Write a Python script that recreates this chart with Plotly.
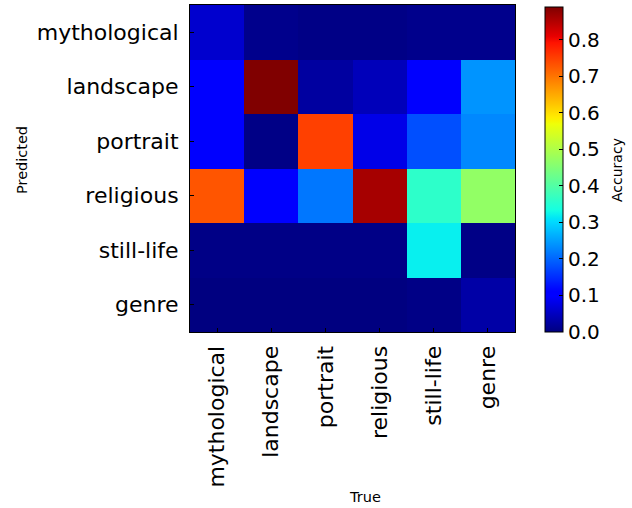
import plotly.graph_objects as go

categories = ["mythological", "landscape", "portrait", "religious", "still-life", "genre"]
# rows = predicted, columns = true
z_values = [
    [0.06, 0.01, 0.005, 0.005, 0.01, 0.01],
    [0.10, 0.89, 0.025, 0.045, 0.105, 0.24],
    [0.10, 0.005, 0.75, 0.08, 0.18, 0.23],
    [0.73, 0.10, 0.215, 0.86, 0.36, 0.47],
    [0.005, 0.005, 0.005, 0.005, 0.32, 0.005],
    [0.0, 0.0, 0.0, 0.0, 0.005, 0.03],
]
cbar_ticks = [0.0, 0.1, 0.2, 0.3, 0.4, 0.5, 0.6, 0.7, 0.8]

# matplotlib "jet" segment data
JET = {
    "r": [(0, 0), (0.35, 0), (0.66, 1), (0.89, 1), (1, 0.5)],
    "g": [(0, 0), (0.125, 0), (0.375, 1), (0.64, 1), (0.91, 0), (1, 0)],
    "b": [(0, 0.5), (0.11, 1), (0.34, 1), (0.65, 0), (1, 0)],
}


def interp(pts, t):
    for (x0, y0), (x1, y1) in zip(pts[:-1], pts[1:]):
        if x0 <= t <= x1:
            return y0 + (y1 - y0) * (t - x0) / (x1 - x0) if x1 > x0 else y1
    return pts[-1][1]


stops = sorted(set([i / 100 for i in range(101)] + [p[0] for c in JET.values() for p in c]))
jet = [[t, "rgb(%d,%d,%d)" % tuple(round(255 * interp(JET[c], t)) for c in "rgb")] for t in stops]

zmax = max(max(r) for r in z_values)

fig = go.Figure(
    go.Heatmap(
        z=z_values,
        x=categories,
        y=categories,
        colorscale=jet,
        zmin=0,
        zmax=zmax,
        colorbar=dict(
            x=1.0 + (545 - 515) / 325,
            xanchor="left",
            y=1 - (7 - 5) / 327,
            yanchor="top",
            len=(332 - 7) / 327,
            lenmode="fraction",
            thickness=18,
            thicknessmode="pixels",
            outlinecolor="black",
            outlinewidth=1,
            tickvals=cbar_ticks,
            ticktext=["%.1f" % v for v in cbar_ticks],
            ticks="inside",
            ticklen=4,
            tickcolor="black",
            tickfont=dict(family="DejaVu Sans", size=20, color="black"),
            xpad=0,
            ypad=0,
        ),
    )
)

fig.update_layout(
    width=632,
    height=508,
    margin=dict(l=190, r=117, t=5, b=176),
    paper_bgcolor="white",
    plot_bgcolor="white",
    font=dict(family="DejaVu Sans", color="black"),
    xaxis=dict(
        showline=True, linecolor="black", linewidth=1, mirror=True,
        ticks="inside", ticklen=4, tickcolor="black",
        tickangle=-90, tickfont=dict(size=22), showgrid=False,
        ticklabelstandoff=4,
    ),
    yaxis=dict(
        showline=True, linecolor="black", linewidth=1, mirror=True,
        ticks="inside", ticklen=4, tickcolor="black",
        tickfont=dict(size=22), autorange="reversed", showgrid=False,
        ticklabelstandoff=6,
    ),
    annotations=[
        dict(text="True", x=365, y=497, showarrow=False, font=dict(size=14.5)),
        dict(text="Predicted", x=22, y=160, showarrow=False, textangle=-90,
             font=dict(size=14.5)),
        dict(text="Accuracy", x=617, y=170, showarrow=False, textangle=-90,
             font=dict(size=14)),
    ],
)

# convert pixel positions of annotations to paper coords
W, H = 632, 508
L, R, T, B = 190, 117, 5, 176
pw, ph = W - L - R, H - T - B
for a in fig.layout.annotations:
    px, py = a.x, a.y
    a.xref = "paper"
    a.yref = "paper"
    a.x = (px - L) / pw
    a.y = 1 - (py - T) / ph
    a.xanchor = "center"
    a.yanchor = "middle"

fig.write_html(
    "out.html",
    config={"displayModeBar": False},
    post_script="document.body.style.margin='0';document.body.style.overflow='hidden';",
)
